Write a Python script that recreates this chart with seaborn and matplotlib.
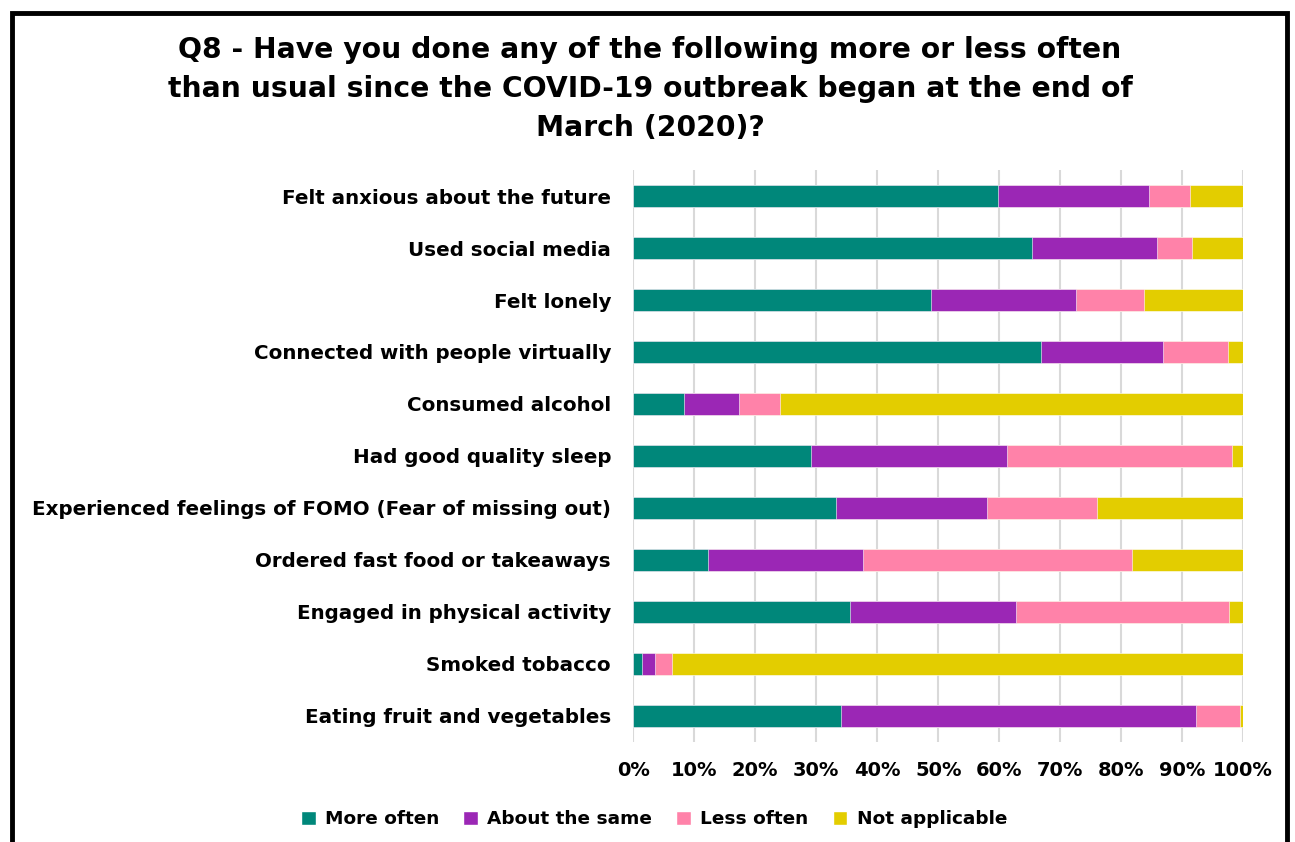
import numpy as np
import pandas as pd
import matplotlib.pyplot as plt
import seaborn as sns
from matplotlib.patches import Rectangle, Patch

# --- Data (percent of respondents) ---
items = [
    "Felt anxious about the future",
    "Used social media",
    "Felt lonely",
    "Connected with people virtually",
    "Consumed alcohol",
    "Had good quality sleep",
    "Experienced feelings of FOMO (Fear of missing out)",
    "Ordered fast food or takeaways",
    "Engaged in physical activity",
    "Smoked tobacco",
    "Eating fruit and vegetables",
]
more_often = [59.8, 65.3, 48.8, 66.8, 8.4, 29.2, 33.2, 12.2, 35.6, 1.5, 34.1]
about_same = [24.8, 20.6, 23.8, 20.1, 9.0, 32.1, 24.8, 25.4, 27.1, 2.0, 58.1]
less_often = [6.6, 5.7, 11.2, 10.6, 6.7, 36.8, 18.1, 44.1, 35.0, 2.9, 7.2]
not_applicable = [8.8, 8.4, 16.2, 2.5, 75.9, 1.9, 23.9, 18.3, 2.3, 93.6, 0.6]

series = ["More often", "About the same", "Less often", "Not applicable"]
colors = ["#00877A", "#9B27B5", "#FF82A9", "#E3CD00"]

df = pd.DataFrame({
    "item": items,
    "More often": more_often,
    "About the same": about_same,
    "Less often": less_often,
    "Not applicable": not_applicable,
})
cum = df[series].cumsum(axis=1)

sns.set_theme(style="white")
plt.rcParams["font.family"] = ["DejaVu Sans"]

fig = plt.figure(figsize=(12.95, 8.42), dpi=100)
ax = fig.add_axes([0.489, 0.119, 0.471, 0.679])

# draw stacked bars back to front with cumulative widths
for s, c in reversed(list(zip(series, colors))):
    sns.barplot(x=cum[s], y=df["item"], color=c, width=0.42, ax=ax,
                orient="h", saturation=1, edgecolor="white", linewidth=0.4)

ax.set_xlim(0, 100)
ax.set_ylim(len(items) - 0.5, -0.5)
ax.set_xticks(np.arange(0, 101, 10))
ax.set_xticklabels([f"{v}%" for v in range(0, 101, 10)],
                   fontsize=14, fontweight="bold", color="black")
ax.tick_params(axis="y", labelsize=14.3, colors="black", pad=16, length=0)
ax.tick_params(axis="x", pad=14, length=0)
for lab in ax.get_yticklabels():
    lab.set_fontweight("bold")
ax.set_xlabel("")
ax.set_ylabel("")
ax.grid(axis="x", color="#D9D9D9", linewidth=1.5)
ax.set_axisbelow(True)
for sp in ax.spines.values():
    sp.set_visible(False)

fig.text(0.502, 0.957,
         "Q8 - Have you done any of the following more or less often\n"
         "than usual since the COVID-19 outbreak began at the end of\n"
         "March (2020)?",
         ha="center", va="top", fontsize=20.3, fontweight="bold",
         linespacing=1.5, color="black")

handles = [Patch(facecolor=c, label=s) for s, c in zip(series, colors)]
leg = fig.legend(handles=handles, loc="center", bbox_to_anchor=(0.505, 0.027),
                 ncol=4, frameon=False, handlelength=0.8,
                 handleheight=0.8, columnspacing=1.3, handletextpad=0.5,
                 prop={"weight": "bold", "size": 13.3})
for t in leg.get_texts():
    t.set_color("black")

# outer chart frame
fig.patches.append(Rectangle((0.009, -0.05), 0.985, 1.034, transform=fig.transFigure,
                             fill=False, edgecolor="black", linewidth=3.5))

fig.savefig("out.png", dpi=100)
